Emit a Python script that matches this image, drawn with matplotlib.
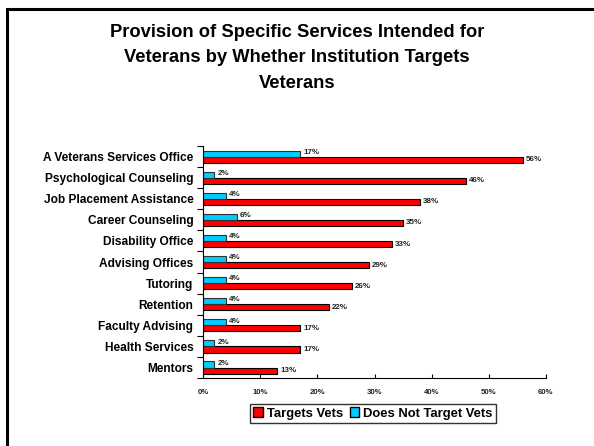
import matplotlib
matplotlib.use("Agg")
import matplotlib.pyplot as plt
from matplotlib.patches import Rectangle, Patch
import numpy as np

plt.rcParams['font.family'] = ['Liberation Sans', 'DejaVu Sans']

categories = ["A Veterans Services Office", "Psychological Counseling", "Job Placement Assistance",
              "Career Counseling", "Disability Office", "Advising Offices", "Tutoring",
              "Retention", "Faculty Advising", "Health Services", "Mentors"]
targets = [56, 46, 38, 35, 33, 29, 26, 22, 17, 17, 13]
not_targets = [17, 2, 4, 6, 4, 4, 4, 4, 4, 2, 2]
xticks = [0, 10, 20, 30, 40, 50, 60]
title = "Provision of Specific Services Intended for\nVeterans by Whether Institution Targets\nVeterans"

W, H = 594, 446
fig = plt.figure(figsize=(W / 100, H / 100), dpi=100)

# frame
fig.patches.append(Rectangle((7 / W, -0.05), 1.2, 1 - 9 / H + 0.05, transform=fig.transFigure,
                             fill=False, edgecolor='black', linewidth=2.2))

fig.text(0.5, 1 - 58 / H, title, ha='center', va='center', fontsize=13.2, fontweight='bold',
         linespacing=1.62)

ax = fig.add_axes([203 / W, 1 - 378 / H, (546 - 203) / W, (378 - 146) / H])
n = len(categories)
ypos = np.arange(n)[::-1].astype(float)
h = 0.29
red = '#FF0000'
cyan = '#00CCFF'
ax.barh(ypos - 0.15, targets, height=h, color=red, edgecolor='black', linewidth=0.8)
ax.barh(ypos + 0.14, not_targets, height=h, color=cyan, edgecolor='#333333', linewidth=0.8)

for y, v in zip(ypos, targets):
    ax.text(v + 0.5, y - 0.15, f"{v}%", va='center', ha='left', fontsize=5.8, fontweight='bold', color='#222222')
for y, v in zip(ypos, not_targets):
    ax.text(v + 0.5, y + 0.2, f"{v}%", va='center', ha='left', fontsize=5.8, fontweight='bold', color='#222222')

ax.set_xlim(0, 60)
ax.set_ylim(-0.5, n - 0.5)
ax.set_xticks(xticks)
ax.set_xticklabels([f"{t}%" for t in xticks], fontsize=5.6, fontweight='bold', color='#222222')
ax.set_yticks(ypos)
ax.set_yticklabels(categories, fontsize=8.6, fontweight='bold')
ax.set_yticks(np.arange(-0.5, n, 1.0), minor=True)
ax.tick_params(axis='y', which='major', length=0, pad=7)
ax.tick_params(axis='y', which='minor', length=4, width=0.8, direction='out')
ax.tick_params(axis='x', which='major', length=3, width=0.8, direction='in', pad=8)
for s in ['top', 'right']:
    ax.spines[s].set_visible(False)
for s in ['left', 'bottom']:
    ax.spines[s].set_linewidth(0.8)

handles = [Patch(facecolor=red, edgecolor='black', label='Targets Vets'),
           Patch(facecolor=cyan, edgecolor='black', label='Does Not Target Vets')]
leg = fig.legend(handles=handles, loc='center', bbox_to_anchor=(373 / W, 1 - 413.5 / H), ncol=2,
                 frameon=True, fancybox=False, edgecolor='black',
                 prop={'weight': 'bold', 'size': 9.4}, handlelength=0.75, handleheight=0.75,
                 handletextpad=0.3, columnspacing=0.5, borderpad=0.25)
leg.get_frame().set_linewidth(1.0)

fig.savefig("out.png", dpi=100)
